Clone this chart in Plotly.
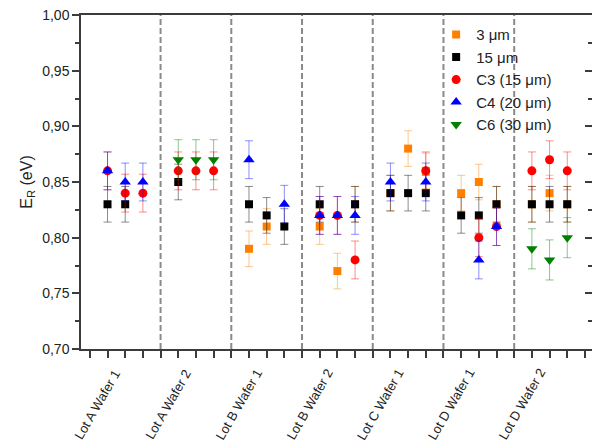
import plotly.graph_objects as go

# ---- data ----
categories = ["Lot A Wafer 1", "Lot A Wafer 2", "Lot B Wafer 1", "Lot B Wafer 2",
              "Lot C Wafer 1", "Lot D Wafer 1", "Lot D Wafer 2"]
category_pos = [3, 7, 11, 15, 19, 23, 27]
separators = [5, 9, 13, 17, 21, 25]
x_pos = [2, 3, 4, 6, 7, 8, 10, 11, 12, 14, 15, 16, 18, 19, 20, 22, 23, 24, 26, 27, 28]

N = None
s3um  = [N, N, N,  N, N, N,  0.79, 0.81, N,  0.81, 0.77, 0.83,  0.84, 0.88, 0.86,  0.84, 0.85, 0.83,  0.83, 0.84, 0.83]
s15um = [0.83, 0.83, N,  0.85, N, N,  0.83, 0.82, 0.81,  0.83, N, 0.83,  0.84, 0.84, 0.84,  0.82, 0.82, 0.83,  0.83, 0.83, 0.83]
sC3   = [0.86, 0.84, 0.84,  0.86, 0.86, 0.86,  N, N, N,  0.82, 0.82, 0.78,  N, N, 0.86,  N, 0.80, 0.81,  0.86, 0.87, 0.86]
sC4   = [0.86, 0.85, 0.85,  N, N, N,  0.87, N, 0.83,  0.82, 0.82, 0.82,  0.85, N, 0.85,  N, 0.78, 0.81,  N, N, N]
sC6   = [N, N, N,  0.87, 0.87, 0.87,  N, N, N,  N, N, N,  N, N, N,  N, N, N,  0.79, 0.78, 0.80]

err3um = [0.016] * len(x_pos)
err15um = [0.016] * len(x_pos)
errC3 = [0.017] * len(x_pos)
errC4 = [0.017] * len(x_pos)
errC6 = [0.018] * len(x_pos)

y_ticks = [0.70, 0.75, 0.80, 0.85, 0.90, 0.95, 1.00]

series = [
    ("3 \u03bcm", s3um, err3um, "#FF8000", "rgba(255,128,0,0.45)", "square", 8),
    ("15 \u03bcm", s15um, err15um, "#000000", "rgba(0,0,0,0.45)", "square", 8),
    ("C3 (15 \u03bcm)", sC3, errC3, "#FF0000", "rgba(255,0,0,0.45)", "circle", 9),
    ("C4 (20 \u03bcm)", sC4, errC4, "#0000FF", "rgba(0,0,255,0.45)", "triangle-up", 10),
    ("C6 (30 \u03bcm)", sC6, errC6, "#008000", "rgba(0,128,0,0.45)", "triangle-down", 10),
]

fig = go.Figure()
for i, (name, vals, errs, col, ecol, sym, sz) in enumerate(series):
    fig.add_trace(go.Scatter(
        x=x_pos, y=vals, mode="markers", name=name, legendgroup=f"g{i}",
        marker=dict(color=col, symbol=sym, size=sz, line=dict(width=0)),
        error_y=dict(type="data", array=errs, visible=True, color=ecol,
                     thickness=1, width=4),
    ))

# invisible trace for the right-hand mirror axis
fig.add_trace(go.Scatter(x=[None], y=[None], yaxis="y2", showlegend=False,
                         hoverinfo="skip", mode="markers"))

for s in separators:
    fig.add_shape(type="line", xref="x", yref="paper", x0=s, x1=s, y0=0, y1=1,
                  line=dict(color="#8a8a8a", width=2, dash="6px,3px"), layer="below")

# rotated category labels
for lab, pos in zip(categories, category_pos):
    fig.add_annotation(text=lab, x=pos, xref="x", y=-0.165, yref="paper",
                       xshift=-28, textangle=-60, showarrow=False,
                       xanchor="center", yanchor="middle",
                       font=dict(size=13, color="#222222"))

tick_vals = list(range(1, 30))

axis_col = "#3c3c3c"
font_family = "Liberation Sans, Arial, sans-serif"

fig.update_layout(
    width=592, height=443,
    margin=dict(l=81, r=0, t=15, b=94),
    paper_bgcolor="white", plot_bgcolor="white",
    separators=",.",
    font=dict(family=font_family, size=14, color="#222222"),
    showlegend=True,
    legend=dict(x=0.695, y=0.99, xanchor="left", yanchor="top",
                bgcolor="rgba(0,0,0,0)", font=dict(size=15, color="#222222"),
                tracegroupgap=0, traceorder="grouped"),
    xaxis=dict(range=[0.5, 29.4], tickmode="array", tickvals=tick_vals,
               showticklabels=False,
               ticks="outside", ticklen=7, tickwidth=1.5, tickcolor=axis_col,
               showline=True, linecolor=axis_col, linewidth=1.5, mirror=True,
               showgrid=False, zeroline=False),
    yaxis=dict(range=[0.70, 1.00], tickmode="array", tickvals=y_ticks, tickformat=".2f",
               ticks="outside", ticklen=7, tickwidth=1.5, tickcolor=axis_col,
               minor=dict(ticks="outside", ticklen=4, dtick=0.025, tick0=0.70,
                          tickcolor=axis_col, tickwidth=1.5, showgrid=False),
               showline=True, linecolor=axis_col, linewidth=1.5,
               showgrid=False, zeroline=False, tickfont=dict(size=14),
               title=dict(text="E<sub>R</sub> (eV)", font=dict(size=16), standoff=6)),
    yaxis2=dict(range=[0.70, 1.00], overlaying="y", side="right", matches="y",
                tickmode="array", tickvals=y_ticks, showticklabels=False,
                ticks="inside", ticklen=7, tickwidth=1.5, tickcolor=axis_col,
                minor=dict(ticks="inside", ticklen=4, dtick=0.025, tick0=0.70,
                           tickcolor=axis_col, tickwidth=1.5, showgrid=False),
                showline=True, linecolor=axis_col, linewidth=1.5,
                showgrid=False, zeroline=False),
)

fig.write_html("out.html", config={"displayModeBar": False},
               post_script="document.body.style.margin='0';document.body.style.padding='0';")
